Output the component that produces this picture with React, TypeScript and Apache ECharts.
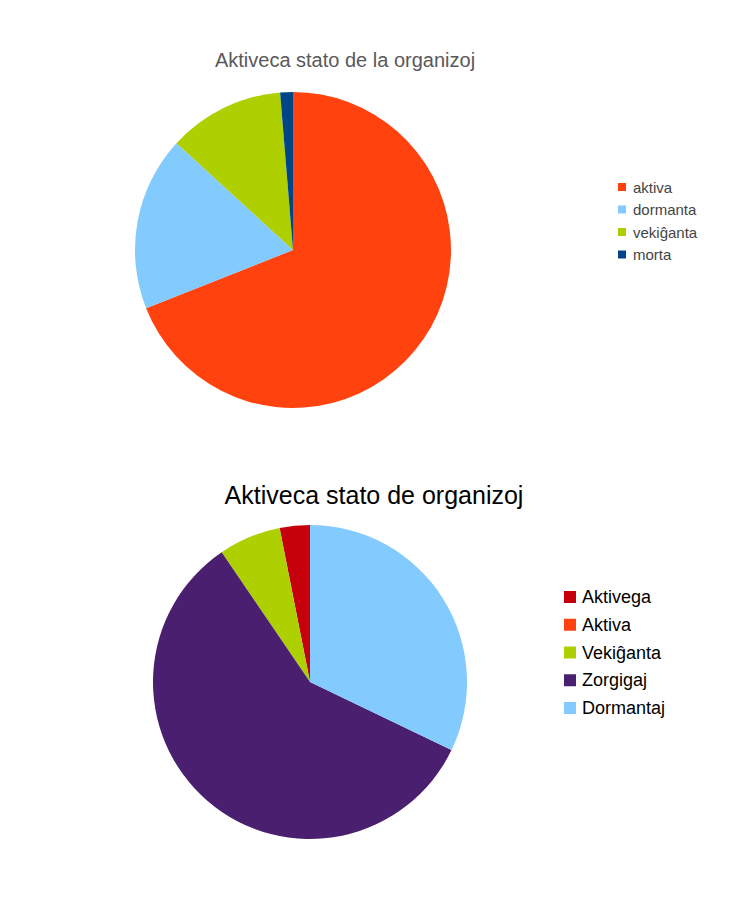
import React, { useEffect, useRef } from 'react';
import * as echarts from 'echarts';

// supra diagramo
const topNames = ['aktiva', 'dormanta', 'vekiĝanta', 'morta'];
const topValues = [69.0, 17.8, 11.9, 1.3];
const topColors = ['#ff420e', '#83caff', '#aecf00', '#004586'];

// malsupra diagramo
const bottomNames = ['Aktivega', 'Aktiva', 'Vekiĝanta', 'Zorgigaj', 'Dormantaj'];
const bottomValues = [3.1, 0, 6.4, 58.3, 32.1];
const bottomColors = ['#c5000b', '#ff420e', '#aecf00', '#4b1f6f', '#83caff'];

const FONT = '"Liberation Sans", Arial, sans-serif';

const App: React.FC = () => {
    const chartRef = useRef<HTMLDivElement>(null);

    useEffect(() => {
        if (!chartRef.current) return;
        const chart = echarts.init(chartRef.current, undefined, { renderer: 'svg' });

        const pieBase = {
            type: 'pie' as const,
            startAngle: 90,
            label: { show: false },
            labelLine: { show: false },
            emphasis: { disabled: true },
            itemStyle: { borderWidth: 0 },
            silent: true,
        };

        chart.setOption({
            animation: false,
            title: [
                {
                    text: 'Aktiveca stato de la organizoj',
                    left: 340,
                    top: 45,
                    textAlign: 'center',
                    textStyle: { fontFamily: FONT, fontSize: 20, fontWeight: 'normal', color: '#595959' },
                },
                {
                    text: 'Aktiveca stato de organizoj',
                    left: 369,
                    top: 477,
                    textAlign: 'center',
                    textStyle: { fontFamily: FONT, fontSize: 25, fontWeight: 'normal', color: '#000000' },
                },
            ],
            legend: [
                {
                    data: topNames,
                    orient: 'vertical',
                    left: 613,
                    top: 174.5,
                    itemWidth: 8,
                    itemHeight: 8,
                    itemGap: 7.5,
                    icon: 'rect',
                    selectedMode: false,
                    textStyle: { fontFamily: FONT, fontSize: 15, lineHeight: 15, color: '#444444', padding: [0, 0, 0, 2] },
                },
                {
                    data: bottomNames,
                    orient: 'vertical',
                    left: 559,
                    top: 583,
                    itemWidth: 12,
                    itemHeight: 12,
                    itemGap: 9.75,
                    icon: 'rect',
                    selectedMode: false,
                    textStyle: { fontFamily: FONT, fontSize: 18, lineHeight: 18, color: '#000000', padding: [0, 0, 0, 1] },
                },
            ],
            series: [
                {
                    ...pieBase,
                    name: 'supra',
                    center: [293, 250],
                    radius: 158,
                    clockwise: true,
                    data: topNames.map((name, i) => ({
                        name,
                        value: topValues[i],
                        itemStyle: { color: topColors[i] },
                    })),
                },
                {
                    ...pieBase,
                    name: 'malsupra',
                    center: [310, 682],
                    radius: 157,
                    clockwise: false,
                    data: bottomNames.map((name, i) => ({
                        name,
                        value: bottomValues[i],
                        itemStyle: { color: bottomColors[i] },
                    })),
                },
            ],
        });

        return () => chart.dispose();
    }, []);

    return (
        <div
            ref={chartRef}
            style={{ position: 'fixed', left: 0, top: 0, width: 756, height: 900, background: '#ffffff' }}
        />
    );
};

export default App;
